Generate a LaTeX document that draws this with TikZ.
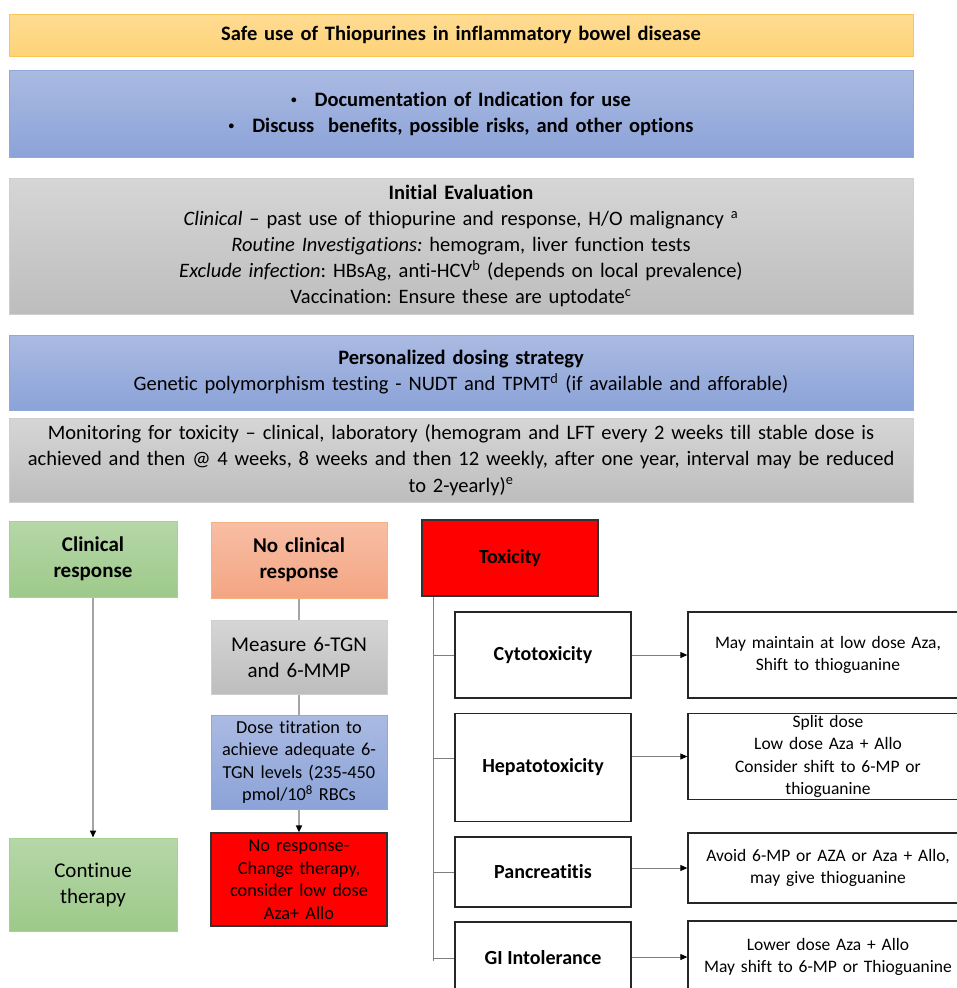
\documentclass[tikz,border=0pt]{standalone}
\usepackage{fontspec}
\setmainfont{Carlito}[Ligatures={NoCommon}]
\frenchspacing
\usetikzlibrary{arrows.meta,calc}
\definecolor{orT}{HTML}{FFDC93}
\definecolor{orB}{HTML}{FED378}
\definecolor{orD}{HTML}{F8C654}
\definecolor{blT}{HTML}{AABAE2}
\definecolor{blB}{HTML}{8CA3D8}
\definecolor{blD}{HTML}{8EA9DB}
\definecolor{grT}{HTML}{D6D6D6}
\definecolor{grB}{HTML}{BDBDBD}
\definecolor{grD}{HTML}{CFCFCF}
\definecolor{gnT}{HTML}{B6D7A8}
\definecolor{gnB}{HTML}{9DC98A}
\definecolor{gnD}{HTML}{A9D18E}
\definecolor{saT}{HTML}{F8BEA5}
\definecolor{saB}{HTML}{F4A582}
\definecolor{saD}{HTML}{F4B183}
\definecolor{lineG}{HTML}{A5A5A5}
\definecolor{lineD}{HTML}{7F7F7F}
\newcommand{\smbul}{\raisebox{0.25ex}{\scalebox{0.55}{\textbullet}}}
\begin{document}
\begin{tikzpicture}[x=1pt,y=-1pt,
  box/.style={draw, inner sep=0pt, align=center, line width=1pt},
  band/.style={box, minimum width=904pt, text width=895pt},
  orangebox/.style={top color=orT, bottom color=orB, draw=orD},
  bluebox/.style={top color=blT, bottom color=blB, draw=blD},
  greybox/.style={top color=grT, bottom color=grB, draw=grD},
  greenbox/.style={top color=gnT, bottom color=gnB, draw=gnD},
  salmonbox/.style={top color=saT, bottom color=saB, draw=saD},
  redbox/.style={fill=red, draw=black!80, line width=1.2pt},
  whitebox/.style={fill=white, draw=black!85, line width=1.3pt},
  bigfont/.style={font=\fontsize{20.5}{26}\selectfont},
  midfont/.style={font=\fontsize{21}{26}\selectfont},
  smallfont/.style={font=\fontsize{18.3}{22.5}\selectfont},
  actfont/.style={font=\fontsize{17.5}{22.5}\selectfont},
  toxfont/.style={font=\fontsize{20}{24}\selectfont},
  conn/.style={draw=lineG, line width=1.6pt},
  tline/.style={draw=lineD, line width=0.9pt},
  tip/.style={-{Triangle[length=7pt,width=6pt,fill=black,color=black]}}
]
\useasboundingbox (0,0) rectangle (957,988);
\clip (0,0) rectangle (957,988);
\fill[white] (0,0) rectangle (957,988);

% top bands
\node[band, orangebox, minimum height=42pt, bigfont] (title) at (461,35)
  {\textbf{Safe use of Thiopurines in inflammatory bowel disease}};
\node[band, bluebox, minimum height=87pt, bigfont] (doc) at (461,113.5)
  {\textbf{\smbul\hspace{18pt}Documentation of Indication for use}\\
   \textbf{\smbul\hspace{18pt}Discuss\ \ benefits, possible risks, and other options}};
\node[band, greybox, minimum height=136pt, bigfont] (init) at (461,246)
  {\textbf{Initial Evaluation}\\
   \textit{Clinical} -- past use of thiopurine and response, H/O malignancy \textsuperscript{a}\\
   \textit{Routine Investigations:} hemogram, liver function tests\\
   \textit{Exclude infection}: HBsAg, anti-HCV\textsuperscript{b} (depends on local prevalence)\\
   Vaccination: Ensure these are uptodate\textsuperscript{c}};
\node[band, bluebox, minimum height=75pt, bigfont] (pers) at (461,372.5)
  {\textbf{Personalized dosing strategy}\\
   Genetic polymorphism testing - NUDT and TPMT\textsuperscript{d} (if available and afforable)};
\node[band, greybox, minimum height=84pt, font=\fontsize{20.5}{26.5}\selectfont] (mon) at (461,460)
  {Monitoring for toxicity -- clinical, laboratory (hemogram and LFT every 2 weeks till stable dose is\\
   achieved and then @ 4 weeks, 8 weeks and then 12 weekly, after one year, interval may be reduced\\
   to 2-yearly)\textsuperscript{e}};

% left columns
\node[box, greenbox, minimum width=168pt, minimum height=76pt, text width=160pt, midfont] (cr) at (93,559)
  {\textbf{Clinical}\\\textbf{response}};
\node[box, greenbox, minimum width=168pt, minimum height=93pt, text width=160pt, midfont] (cont) at (93,884.5)
  {Continue\\therapy};
\node[box, salmonbox, minimum width=176pt, minimum height=76pt, text width=168pt, midfont] (ncr) at (299,560)
  {\textbf{No clinical}\\\textbf{response}};
\node[box, greybox, minimum width=176pt, minimum height=74pt, text width=168pt, midfont] (meas) at (299,657)
  {Measure 6-TGN\\and 6-MMP};
\node[box, bluebox, minimum width=176pt, minimum height=94pt, text width=172pt, smallfont] (dose) at (299,762)
  {Dose titration to\\achieve adequate 6-\\TGN levels (235-450\\pmol/10\textsuperscript{8} RBCs};
\node[box, redbox, minimum width=176pt, minimum height=93pt, text width=172pt, smallfont] (nores) at (299,879.5)
  {No response-\\Change therapy,\\consider low dose\\Aza+ Allo};

\draw[conn, tip] (cr) -- (cont);
\draw[conn] (ncr) -- (meas);
\draw[conn] (meas) -- (dose);
\draw[conn, tip] (dose) -- (nores);

% toxicity
\node[box, redbox, minimum width=176pt, minimum height=76pt, toxfont] (tox) at (510,558)
  {\textbf{Toxicity}};
\node[box, whitebox, minimum width=176pt, minimum height=86pt, toxfont] (cyto) at (543,655)
  {\textbf{Cytotoxicity}};
\node[box, whitebox, minimum width=176pt, minimum height=108pt, toxfont] (hep) at (543,767.5)
  {\textbf{Hepatotoxicity}};
\node[box, whitebox, minimum width=176pt, minimum height=70pt, toxfont] (panc) at (543,872)
  {\textbf{Pancreatitis}};
\node[box, whitebox, minimum width=176pt, minimum height=72pt, toxfont] (gi) at (543,958)
  {\textbf{GI Intolerance}};

\node[box, whitebox, minimum width=280pt, minimum height=86pt, text width=276pt, actfont] (cytoA) at (828,655)
  {May maintain at low dose Aza,\\Shift to thioguanine};
\node[box, whitebox, minimum width=280pt, minimum height=86pt, text width=276pt, actfont] (hepA) at (828,756.5)
  {Split dose\\Low dose Aza + Allo\\Consider shift to 6-MP or\\thioguanine};
\node[box, whitebox, minimum width=280pt, minimum height=70pt, text width=276pt, actfont] (pancA) at (828,868)
  {Avoid 6-MP or AZA or Aza + Allo,\\may give thioguanine};
\node[box, whitebox, minimum width=280pt, minimum height=72pt, text width=276pt, actfont] (giA) at (828,957)
  {Lower dose Aza + Allo\\May shift to 6-MP or Thioguanine};

\coordinate (tk) at (433,961);
\draw[tline] (tox.south -| tk) -- (tk);
\draw[tline] (tk |- cyto.west) -- (cyto.west);
\draw[tline] ($(tk |- hep.west)+(0,-9.5)$) -- ($(hep.west)+(0,-9.5)$);
\draw[tline] (tk |- panc.west) -- (panc.west);
\draw[tline] (tk |- gi.west) -- (gi.west);

\draw[tline, tip] (cyto.east) -- (cytoA.west);
\draw[tline, tip] (hepA.west -| hep.east) -- (hepA.west);
\draw[tline, tip] (pancA.west -| panc.east) -- (pancA.west);
\draw[tline, tip] (giA.west -| gi.east) -- (giA.west);
\end{tikzpicture}
\end{document}
